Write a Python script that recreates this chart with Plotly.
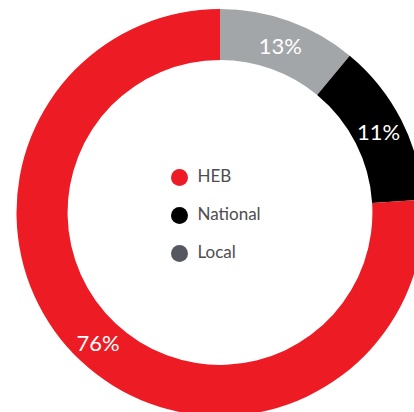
import plotly.graph_objects as go

# Slices in drawing order (clockwise from 12 o'clock)
slice_names = ["Local", "National", "HEB"]
slice_values = [11, 13, 76]          # arc sizes as drawn
slice_text = ["13%", "11%", "76%"]   # printed labels
slice_colors = ["#A3A6A9", "#000000", "#ED1C24"]

# Legend (center of the ring)
legend_names = ["HEB", "National", "Local"]
legend_colors = ["#ED1C24", "#000000", "#55585F"]

W, H = 424, 416

fig = go.Figure()
fig.add_trace(go.Pie(
    labels=slice_names,
    values=slice_values,
    text=slice_text,
    textinfo="text",
    textposition="inside",
    insidetextorientation="horizontal",
    sort=False,
    direction="clockwise",
    rotation=0,
    hole=0.749,
    marker=dict(colors=slice_colors, line=dict(width=0)),
    textfont=dict(family="Lato", size=22, color="white"),
    domain=dict(x=[16.5 / W, 423.5 / W], y=[0, (H - 9) / H]),
    showlegend=False,
    hoverinfo="skip",
))

# legend dots
fig.add_trace(go.Scatter(
    x=[0] * len(legend_names),
    y=legend_names,
    mode="markers",
    marker=dict(size=17, color=legend_colors),
    showlegend=False,
    hoverinfo="skip",
    cliponaxis=False,
))
# legend labels
fig.add_trace(go.Scatter(
    x=[0] * len(legend_names),
    y=legend_names,
    mode="text",
    text=legend_names,
    textposition="middle right",
    textfont=dict(family="Lato", size=17, color="#4D4D4F"),
    xaxis="x2",
    showlegend=False,
    hoverinfo="skip",
    cliponaxis=False,
))

ydom = [(H - 269.5) / H, (H - 161.5) / H]
fig.update_layout(
    width=W, height=H,
    margin=dict(l=0, r=0, t=0, b=0),
    paper_bgcolor="white",
    plot_bgcolor="rgba(0,0,0,0)",
    xaxis=dict(range=[-1, 1], domain=[179.5 / W - 0.1, 179.5 / W + 0.1],
               visible=False, fixedrange=True),
    xaxis2=dict(range=[0, 1], domain=[197.5 / W, 300.0 / W],
                visible=False, fixedrange=True, anchor="y"),
    yaxis=dict(type="category", autorange="reversed", domain=ydom,
               visible=False, fixedrange=True),
)

fig.write_html(
    "out.html",
    config={"displayModeBar": False, "staticPlot": True},
    post_script="document.body.style.margin='0';document.body.style.overflow='hidden';",
)
